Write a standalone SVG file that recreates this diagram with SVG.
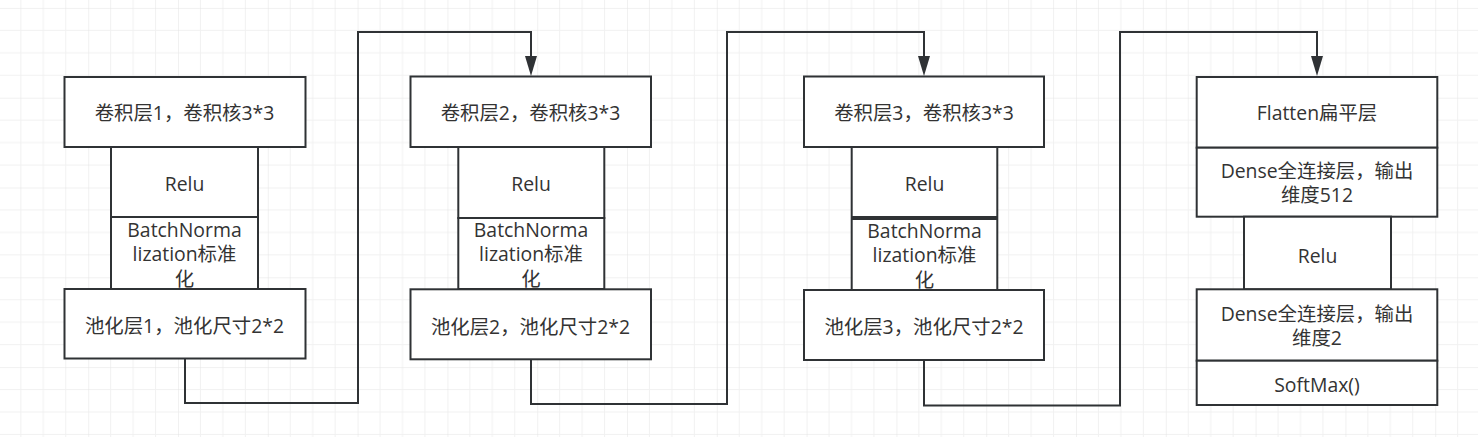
<svg xmlns="http://www.w3.org/2000/svg" width="1478" height="437" viewBox="0 0 1478 437">
<style>
.box{fill:#ffffff;stroke:#2f3235;stroke-width:2}
.t{font-family:"Open Sans","Noto Sans CJK SC",sans-serif;font-size:19.4px;fill:#333333;text-anchor:middle}
.conn{fill:none;stroke:#2f3235;stroke-width:2;stroke-linejoin:miter}
</style>
<defs>
<pattern id="grid" patternUnits="userSpaceOnUse" x="-1.6" y="7.9" width="89.8" height="89.8">
<path d="M22.45 0V89.8M44.9 0V89.8M67.35 0V89.8M0 22.45H89.8M0 44.9H89.8M0 67.35H89.8" stroke="#f1f1f1" stroke-width="1" fill="none"/>
<path d="M0 0V89.8M0 0H89.8" stroke="#e4e4e4" stroke-width="1" fill="none"/>
</pattern>
<marker id="arr" markerUnits="userSpaceOnUse" markerWidth="20" markerHeight="12" refX="0" refY="6" orient="auto">
<path d="M0,0 L20,6 L0,12 z" fill="#2f3235"/>
</marker>
</defs>
<rect width="1478" height="437" fill="#ffffff"/>
<rect width="1478" height="437" fill="url(#grid)"/>

<g id="connectors">
<path class="conn" d="M185,359 V403 H358 V32 H531 V56" marker-end="url(#arr)"/>
<path class="conn" d="M531,359 V404 H727 V32 H924 V56" marker-end="url(#arr)"/>
<path class="conn" d="M924,360 V405.5 H1120 V32 H1317 V56" marker-end="url(#arr)"/>
</g>

<g id="node1">
<rect class="box" x="64.5" y="77" width="241" height="70"/>
<text class="t" x="184.5" y="119.5">卷积层1，卷积核3*3</text>
<rect class="box" x="111" y="147" width="147" height="70"/>
<text class="t" x="184.5" y="190.5">Relu</text>
<rect class="box" x="111" y="217" width="147" height="72"/>
<text class="t" x="184.5" y="236.5">BatchNorma<tspan x="184.5" dy="24.5">lization标准</tspan><tspan x="184.5" dy="24.5">化</tspan></text>
<rect class="box" x="64.5" y="289" width="241" height="69.5"/>
<text class="t" x="184.5" y="333">池化层1，池化尺寸2*2</text>
</g>

<g id="node2">
<rect class="box" x="410.5" y="76.5" width="240.5" height="70.5"/>
<text class="t" x="530.5" y="119.5">卷积层2，卷积核3*3</text>
<rect class="box" x="458.3" y="147" width="146" height="71"/>
<text class="t" x="531" y="190.5">Relu</text>
<rect class="box" x="458.3" y="218" width="146" height="71"/>
<text class="t" x="531" y="236.5">BatchNorma<tspan x="531" dy="24.5">lization标准</tspan><tspan x="531" dy="24.5">化</tspan></text>
<rect class="box" x="410.5" y="289.3" width="240.5" height="70"/>
<text class="t" x="530.5" y="333.5">池化层2，池化尺寸2*2</text>
</g>

<g id="node3">
<rect class="box" x="804" y="76.5" width="240" height="70.5"/>
<text class="t" x="924" y="119.5">卷积层3，卷积核3*3</text>
<rect class="box" x="851.7" y="147" width="145.6" height="70"/>
<text class="t" x="924.5" y="190.5">Relu</text>
<rect class="box" x="851.7" y="219" width="145.6" height="71"/>
<text class="t" x="924.5" y="237.5">BatchNorma<tspan x="924.5" dy="24.5">lization标准</tspan><tspan x="924.5" dy="24.5">化</tspan></text>
<rect class="box" x="804" y="290" width="240" height="70"/>
<text class="t" x="924" y="334">池化层3，池化尺寸2*2</text>
</g>

<g id="node4">
<rect class="box" x="1196.7" y="77" width="240.6" height="70.7"/>
<text class="t" x="1317" y="120">Flatten扁平层</text>
<rect class="box" x="1196.7" y="147.7" width="240.6" height="69"/>
<text class="t" x="1317" y="177.75">Dense全连接层，输出<tspan x="1317" dy="24.5">维度512</tspan></text>
<rect class="box" x="1244" y="216.7" width="147" height="72.6"/>
<text class="t" x="1317.5" y="263">Relu</text>
<rect class="box" x="1196.7" y="289.3" width="240.6" height="71.4"/>
<text class="t" x="1317" y="320.75">Dense全连接层，输出<tspan x="1317" dy="24.5">维度2</tspan></text>
<rect class="box" x="1196.7" y="360.7" width="240.6" height="44.3"/>
<text class="t" x="1317" y="391.5">SoftMax()</text>
</g>
</svg>
